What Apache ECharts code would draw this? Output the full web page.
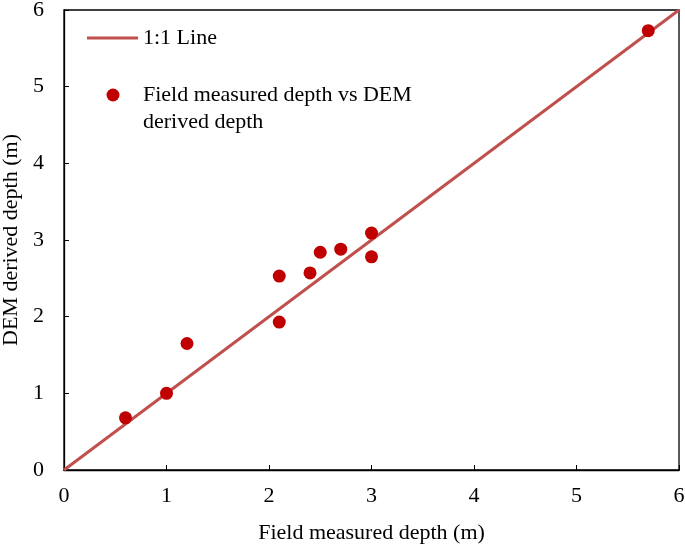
<!DOCTYPE html>
<html><head><meta charset="utf-8">
<script src="https://cdn.jsdelivr.net/npm/echarts@6/dist/echarts.min.js"></script>
<style>html,body{margin:0;padding:0;background:#fff}#c{width:685px;height:546px}</style>
</head><body><div id="c"></div>
<script>
const fieldDepth = [0.6, 1.0, 1.2, 2.1, 2.1, 2.4, 2.5, 2.7, 3.0, 3.0, 5.7];
const demDepth   = [0.68, 1.0, 1.65, 2.53, 1.93, 2.57, 2.84, 2.88, 3.09, 2.78, 5.73];
const lineX = [0, 6];
const lineY = [0, 6];
const lineName = '1:1 Line';
const scatterName = 'Field measured depth vs DEM derived depth';
const xTitle = 'Field measured depth (m)';
const yTitle = 'DEM derived depth (m)';

const font = 'Liberation Serif, Times New Roman, serif';
const fs = 22;
const chart = echarts.init(document.getElementById('c'), null, {renderer: 'canvas'});
chart.setOption({
  animation: false,
  grid: {left: 64, right: 6, top: 10, bottom: 76, show: true, borderColor: '#000', borderWidth: 1.3,
         containLabel: false, outerBoundsMode: 'none'},
  xAxis: {
    type: 'value', min: 0, max: 6, interval: 1,
    name: xTitle, nameLocation: 'middle', nameGap: 52,
    nameTextStyle: {fontFamily: font, fontSize: fs, color: '#000'},
    axisLine: {show: true, onZero: false, lineStyle: {color: '#000', width: 1.3}},
    axisTick: {show: true, inside: true, length: 5, lineStyle: {color: '#000'}},
    axisLabel: {fontFamily: font, fontSize: fs, color: '#000', margin: 15},
    splitLine: {show: false}
  },
  yAxis: {
    type: 'value', min: 0, max: 6, interval: 1,
    name: yTitle, nameLocation: 'middle', nameGap: 38,
    nameTextStyle: {fontFamily: font, fontSize: fs, color: '#000'},
    axisLine: {show: true, onZero: false, lineStyle: {color: '#000', width: 1.3}},
    axisTick: {show: true, inside: true, length: 5, lineStyle: {color: '#000'}},
    axisLabel: {fontFamily: font, fontSize: fs, color: '#000', margin: 20},
    splitLine: {show: false}
  },
  legend: [
    {data: [{name: lineName, icon: 'rect'}], left: 87, top: 27, padding: 0, itemWidth: 51, itemHeight: 3,
     itemStyle: {color: '#c0504d'},
     textStyle: {fontFamily: font, fontSize: fs, color: '#000'}},
    {data: [scatterName], left: 106.5, top: 54.5, padding: 0, itemWidth: 13, itemHeight: 13,
     formatter: function () { return '\nField measured depth vs DEM\nderived depth'; },
     textStyle: {fontFamily: font, fontSize: fs, color: '#000', lineHeight: 27, padding: [0, 0, 0, 18.5]}}
  ],
  series: [
    {name: lineName, type: 'line', data: lineX.map((x, i) => [x, lineY[i]]),
     showSymbol: false, symbol: 'none', lineStyle: {color: '#c0504d', width: 3}, itemStyle: {color: '#c0504d'}, z: 2},
    {name: scatterName, type: 'scatter', data: fieldDepth.map((x, i) => [x, demDepth[i]]),
     symbol: 'circle', symbolSize: 13, itemStyle: {color: '#c00000', opacity: 1}, z: 3}
  ]
});
</script></body></html>
